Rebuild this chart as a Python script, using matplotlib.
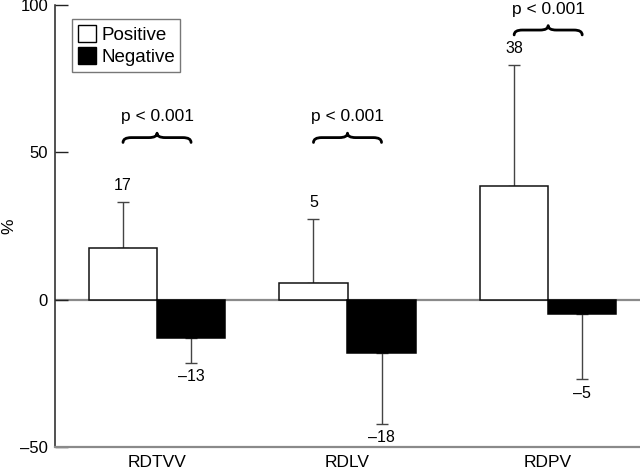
import matplotlib
matplotlib.use("Agg")
import matplotlib.pyplot as plt
import numpy as np
from matplotlib.path import Path
from matplotlib.patches import PathPatch, Patch

plt.rcParams['font.family'] = ['Liberation Sans', 'DejaVu Sans']

# ---- data ----
categories = ["RDTVV", "RDLV", "RDPV"]
positive = [17.6, 5.8, 38.7]
negative = [-12.9, -18.0, -4.8]
positive_err = [15.6, 21.5, 41.0]
negative_err = [8.5, 24.2, 22.2]
positive_labels = ["17", "5", "38"]
negative_labels = ["\u201313", "\u201318", "\u20135"]
p_texts = ["p < 0.001", "p < 0.001", "p < 0.001"]
brace_levels = [55.0, 55.0, 91.5]
yticks = [-50, 0, 50, 100]
ytick_labels = ["\u201350", "0", "50", "100"]

# ---- layout ----
fig = plt.figure(figsize=(6.4, 4.7), dpi=100)
ax = fig.add_axes([55/640, 1-447/470, 585/640, 442/470])

group_x = np.array([1.5, 4.3, 7.25])
w = 1.0
ax.set_xlim(0, 8.6)
ax.set_ylim(-50, 100)

# zero line
ax.axhline(0, color="#8a8a8a", lw=1.6, zorder=1)

ax.bar(group_x - w/2, positive, width=w, color="white", edgecolor="#111111",
       lw=1.1, zorder=2)
ax.bar(group_x + w/2, negative, width=w, color="black", edgecolor="black",
       lw=1.1, zorder=2)

ax.errorbar(group_x - w/2, positive, yerr=[np.zeros(3), positive_err], fmt="none",
            ecolor="#444444", elinewidth=1.0, capsize=4, capthick=1.0, zorder=1.5)
ax.errorbar(group_x + w/2, negative, yerr=[negative_err, np.zeros(3)], fmt="none",
            ecolor="#444444", elinewidth=1.0, capsize=4, capthick=1.0, zorder=1.5)

for i in range(3):
    ax.annotate(positive_labels[i], (group_x[i] - w/2, positive[i] + positive_err[i]),
                xytext=(0, 12), textcoords="offset points", ha="center", va="center",
                fontsize=11.5)
    ax.annotate(negative_labels[i], (group_x[i] + w/2, negative[i] - negative_err[i]),
                xytext=(0, -10), textcoords="offset points", ha="center", va="center",
                fontsize=11.5)

def brace(ax, x1, x2, y, h):
    xm = (x1 + x2) / 2
    r = 0.12 * (x2 - x1)
    verts = [(x1, y - h*0.55), (x1, y), (x1 + r, y),
             (xm - r, y), (xm, y), (xm, y + h*0.5),
             (xm, y), (xm + r, y),
             (x2 - r, y), (x2, y), (x2, y - h*0.55)]
    codes = [Path.MOVETO, Path.CURVE3, Path.CURVE3,
             Path.LINETO, Path.CURVE3, Path.CURVE3,
             Path.CURVE3, Path.CURVE3,
             Path.LINETO, Path.CURVE3, Path.CURVE3]
    ax.add_patch(PathPatch(Path(verts, codes), fill=False, lw=2.0,
                           edgecolor="black", capstyle="round", joinstyle="round"))

for i in range(3):
    yb = brace_levels[i]
    brace(ax, group_x[i] - w/2, group_x[i] + w/2, yb, 3.0)
    ax.text(group_x[i], yb + 7.0, p_texts[i], ha="center", va="center", fontsize=12.5)

# axes styling
for s in ["top", "right"]:
    ax.spines[s].set_visible(False)
ax.spines["left"].set_color("#222222")
ax.spines["left"].set_linewidth(1.1)
ax.spines["bottom"].set_color("#8a8a8a")
ax.spines["bottom"].set_linewidth(1.6)

ax.set_yticks(yticks)
ax.set_yticklabels(ytick_labels, fontsize=12)
ax.tick_params(axis="y", direction="in", length=9, width=1.0, pad=5, color="#222222")
ax.set_xticks(group_x)
ax.set_xticklabels(categories, fontsize=12.5)
ax.tick_params(axis="x", length=0, pad=6)

ax.set_ylabel("%", fontsize=12.5)
ax.yaxis.set_label_coords(-0.066, 0.5)

handles = [Patch(facecolor="white", edgecolor="black", lw=1.0, label="Positive"),
           Patch(facecolor="black", edgecolor="black", lw=1.0, label="Negative")]
leg = ax.legend(handles=handles, loc="upper left", bbox_to_anchor=(0.029, 0.968),
                borderaxespad=0, fontsize=13.5, fancybox=False, framealpha=1,
                edgecolor="#777777", handlelength=1.0, handleheight=1.0,
                handletextpad=0.25, labelspacing=0.2, borderpad=0.3)
leg.get_frame().set_linewidth(1.0)

fig.savefig("out.png", dpi=100)
